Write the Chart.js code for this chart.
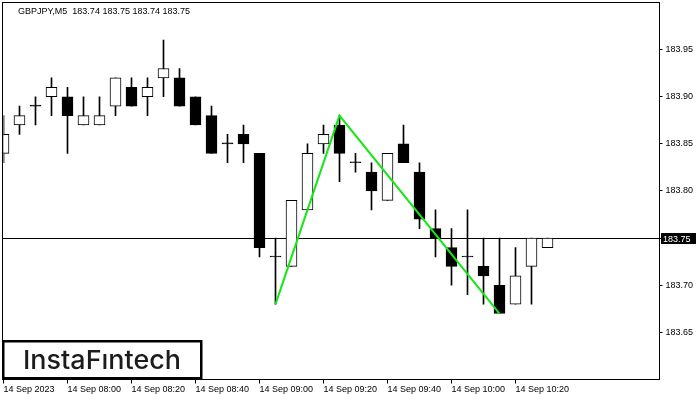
<!DOCTYPE html>
<html>
<head>
<meta charset="utf-8">
<script src="https://cdn.jsdelivr.net/npm/chart.js@4.4.1/dist/chart.umd.min.js"></script>
<style>
  html, body { margin: 0; padding: 0; background: #fff; }
  #wrap { width: 700px; height: 400px; position: relative; }
</style>
</head>
<body>
<div id="wrap"><canvas id="chart"></canvas></div>
<script>
// --- GBPJPY M5 candles ---
const times = ['07:40','07:45','07:50','07:55','08:00','08:05','08:10','08:15','08:20','08:25',
               '08:30','08:35','08:40','08:45','08:50','08:55','09:00','09:05','09:10','09:15',
               '09:20','09:25','09:30','09:35','09:40','09:45','09:50','09:55','10:00','10:05',
               '10:10','10:15','10:20','10:25','10:30'];
// empty slots to the right of the last bar
const futureSlots = ['10:35','10:40','10:45','10:50','10:55','11:00','11:05'];

const opens  = [183.84,183.87,183.89,183.90,183.90,183.87,183.87,183.89,183.91,183.90,
                183.92,183.92,183.90,183.88,183.85,183.86,183.84,183.73,183.72,183.78,
                183.85,183.87,183.83,183.82,183.79,183.85,183.82,183.76,183.74,183.73,
                183.72,183.70,183.68,183.72,183.74];
const highs  = [183.88,183.89,183.90,183.92,183.91,183.90,183.90,183.92,183.92,183.92,
                183.96,183.93,183.90,183.89,183.86,183.87,183.84,183.75,183.79,183.85,
                183.87,183.88,183.84,183.83,183.84,183.87,183.83,183.78,183.76,183.78,
                183.75,183.75,183.74,183.75,183.75];
const lows   = [183.83,183.86,183.87,183.88,183.84,183.87,183.87,183.88,183.89,183.88,
                183.90,183.89,183.87,183.84,183.83,183.83,183.73,183.68,183.72,183.78,
                183.84,183.81,183.82,183.78,183.79,183.83,183.76,183.73,183.70,183.69,
                183.68,183.67,183.68,183.68,183.74];
const closes = [183.86,183.88,183.89,183.91,183.88,183.88,183.88,183.92,183.89,183.91,
                183.93,183.89,183.87,183.84,183.85,183.85,183.74,183.73,183.79,183.84,
                183.86,183.84,183.83,183.80,183.84,183.83,183.77,183.75,183.72,183.73,
                183.71,183.67,183.71,183.75,183.75];

// x axis labels
const tickIdx  = [0, 4, 8, 12, 16, 20, 24, 28, 32];
const tickText = ['14 Sep 2023','14 Sep 08:00','14 Sep 08:20','14 Sep 08:40','14 Sep 09:00',
                  '14 Sep 09:20','14 Sep 09:40','14 Sep 10:00','14 Sep 10:20'];

// y axis
const yMin = 183.60, yMax = 184.00, yStep = 0.05;

// green pattern line (bar index -> price)
const patternIdx  = [17, 21, 31];
const patternVals = [183.68, 183.88, 183.67];

const symbolTitle = 'GBPJPY,M5  183.74 183.75 183.74 183.75';
const bidPrice = 183.75;

// --- build datasets ---
const slots = times.concat(futureSlots);
const wicks = lows.map((l, i) => [l, highs[i]]);
const bodies = opens.map((o, i) => [o, closes[i]]);
const bodyColors = opens.map((o, i) => closes[i] > o ? '#ffffff' : '#000000');
const pattern = slots.map((_, i) => {
  const j = patternIdx.indexOf(i);
  return j >= 0 ? patternVals[j] : null;
});

const axisFont = { family: "'Liberation Sans', Arial, sans-serif", size: 9 };

// frame, bid line, price tag, title and logo
const mtOverlay = {
  id: 'mtOverlay',
  beforeDatasetsDraw(chart) {
    const { ctx, chartArea: a, scales: { y } } = chart;
    const py = Math.round(y.getPixelForValue(bidPrice)) + 0.5;
    ctx.save();
    ctx.strokeStyle = '#000';
    ctx.lineWidth = 1;
    ctx.beginPath();
    ctx.moveTo(a.left - 1, py);
    ctx.lineTo(a.right, py);
    ctx.stroke();
    ctx.restore();
  },
  afterDraw(chart) {
    const { ctx, chartArea: a, scales: { y } } = chart;
    ctx.save();
    // frame
    ctx.strokeStyle = '#000';
    ctx.lineWidth = 1;
    ctx.strokeRect(a.left - 1, a.top, a.right - a.left + 1, a.bottom - a.top);

    // title
    ctx.fillStyle = '#000';
    ctx.font = "9px 'Liberation Sans', Arial, sans-serif";
    ctx.textBaseline = 'alphabetic';
    ctx.textAlign = 'left';
    ctx.fillText(symbolTitle, 18, 14);

    // price tag
    const py = Math.round(y.getPixelForValue(bidPrice)) + 0.5;
    ctx.fillStyle = '#000';
    ctx.fillRect(a.right + 1.5, py - 5.5, 35, 11);
    ctx.fillStyle = '#fff';
    ctx.fillText(bidPrice.toFixed(2), a.right + 3.5, py + 3);

    // logo
    ctx.fillStyle = '#fff';
    ctx.fillRect(3, 341, 198, 37);
    ctx.strokeStyle = '#000';
    ctx.lineWidth = 2.5;
    ctx.strokeRect(3.25, 341.25, 198, 37);
    ctx.font = "500 26px Inter, 'Open Sans', sans-serif";
    const txt = 'InstaF\u0131ntech';
    const w = ctx.measureText(txt).width;
    ctx.translate(102, 369);
    ctx.scale(158 / w, 1);
    ctx.fillStyle = '#1c1c1c';
    ctx.textAlign = 'center';
    ctx.fillText(txt, 0, 0);
    ctx.restore();
  }
};

new Chart(document.getElementById('chart'), {
  type: 'bar',
  data: {
    labels: slots,
    datasets: [
      {
        label: 'wicks',
        data: wicks,
        backgroundColor: '#000',
        barThickness: 1,
        grouped: false,
        order: 3
      },
      {
        label: 'bodies',
        data: bodies,
        backgroundColor: bodyColors,
        borderColor: '#000',
        borderWidth: 1,
        borderSkipped: false,
        barThickness: 11,
        minBarLength: 1,
        grouped: false,
        order: 2
      },
      {
        type: 'line',
        label: 'pattern',
        data: pattern,
        borderColor: 'rgb(20, 232, 20)',
        borderWidth: 2,
        pointRadius: 0,
        spanGaps: true,
        tension: 0,
        order: 1
      }
    ]
  },
  options: {
    responsive: true,
    maintainAspectRatio: false,
    animation: false,
    events: [],
    layout: { padding: { left: 3.5, top: 2.5, right: 0, bottom: 0 } },
    plugins: { legend: { display: false }, tooltip: { enabled: false } },
    scales: {
      x: {
        type: 'category',
        offset: false,
        grid: { offset: false, drawOnChartArea: false, drawTicks: true, tickLength: 4, color: '#000' },
        border: { display: false },
        ticks: {
          autoSkip: false,
          maxRotation: 0,
          align: 'start',
          padding: 1,
          color: '#000',
          font: axisFont,
          callback: (v, i) => {
            const j = tickIdx.indexOf(i);
            return j >= 0 ? tickText[j] : null;
          }
        },
        afterFit: (s) => { s.height = 20.5; s.paddingLeft = 0; s.paddingRight = 0; }
      },
      y: {
        position: 'right',
        min: yMin,
        max: yMax,
        grid: { drawOnChartArea: false, drawTicks: true, tickLength: 3, color: '#000' },
        border: { display: false },
        ticks: {
          stepSize: yStep,
          padding: 3,
          color: '#000',
          font: axisFont,
          callback: (v) => {
            if (Math.abs(v - yMin) < 1e-6 || Math.abs(v - yMax) < 1e-6) return null;
            return v.toFixed(2);
          }
        },
        afterFit: (s) => { s.width = 40.5; s.paddingTop = 0; s.paddingBottom = 0; }
      }
    }
  },
  plugins: [mtOverlay]
});
</script>
</body>
</html>
